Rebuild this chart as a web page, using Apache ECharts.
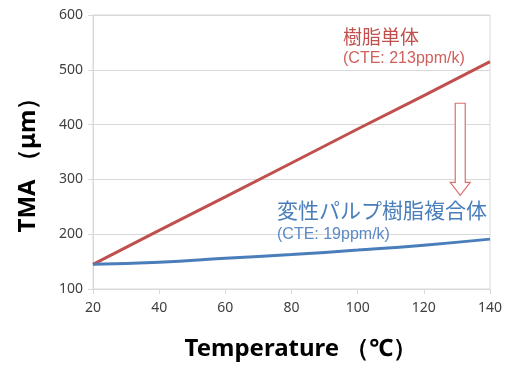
<!DOCTYPE html>
<html><head><meta charset="utf-8">
<script src="https://cdn.jsdelivr.net/npm/echarts@6/dist/echarts.min.js"></script>
<style>html,body{margin:0;padding:0;background:#fff}#c{width:511px;height:365px}</style>
</head><body><div id="c"></div>
<script>
const temps = [20, 40, 60, 80, 100, 120, 140];
const resinValues = [145, 207, 268, 330, 392, 453, 515];
const compositeValues = [145, 149, 156, 163, 171, 180, 191];
const xTicks = [20, 40, 60, 80, 100, 120, 140];
const yTicks = [100, 200, 300, 400, 500, 600];
const arrowX = 131, arrowTop = 439, arrowTip = 271;

(function(){
const red = '#c0504d', blue = '#4a7ebb';
const chart = echarts.init(document.getElementById('c'), null, {renderer: 'canvas'});
const font = '"Noto Sans", "Open Sans", sans-serif';
const arial = '"Liberation Sans", Arial, sans-serif';
const cjk = '"Noto Sans CJK JP", sans-serif';
chart.setOption({
  animation: false,
  grid: {left: 93, right: 21, top: 15, bottom: 76, show: true, borderColor: '#d9d9d9', borderWidth: 1},
  xAxis: {type: 'value', min: xTicks[0], max: xTicks[xTicks.length-1], interval: 20,
    axisLine: {show: true, lineStyle: {color: '#d9d9d9'}},
    axisTick: {show: true, length: 5, lineStyle: {color: '#d9d9d9'}},
    splitLine: {show: false},
    axisLabel: {color: '#404040', fontSize: 14, margin: 12, fontFamily: font}},
  yAxis: {type: 'value', min: yTicks[0], max: yTicks[yTicks.length-1], interval: 100,
    axisLine: {show: true, lineStyle: {color: '#d9d9d9'}},
    axisTick: {show: true, length: 5, lineStyle: {color: '#d9d9d9'}},
    splitLine: {show: true, lineStyle: {color: '#d9d9d9'}},
    axisLabel: {color: '#404040', fontSize: 14, margin: 10, fontFamily: font}},
  series: [
    {type: 'line', data: temps.map((t,i)=>[t, resinValues[i]]), showSymbol: false, lineStyle: {color: red, width: 3}, z: 3},
    {type: 'line', data: temps.map((t,i)=>[t, compositeValues[i]]), smooth: true, showSymbol: false, lineStyle: {color: blue, width: 3}, z: 3}
  ]
});
const p1 = chart.convertToPixel({gridIndex: 0}, [arrowX, arrowTop]);
const p2 = chart.convertToPixel({gridIndex: 0}, [arrowX, arrowTip]);
const cx = p1[0], yTop = p1[1], yTip = p2[1];
const headH = 13;
chart.setOption({graphic: [
  {type: 'polygon', shape: {points: [[cx-5, yTop], [cx+5, yTop], [cx+5, yTip-headH], [cx+10, yTip-headH], [cx, yTip], [cx-10, yTip-headH], [cx-5, yTip-headH]]},
   style: {fill: '#fff', stroke: '#d9706d', lineWidth: 1.2}, z: 10},
  {type: 'text', x: 343, y: 37, style: {text: '樹脂単体', fill: red, font: '19px ' + cjk, verticalAlign: 'middle'}, z: 11},
  {type: 'text', x: 343, y: 59, style: {text: '(CTE: 213ppm/k)', fill: '#d0605d', font: '16px ' + arial, verticalAlign: 'middle'}, z: 11},
  {type: 'text', x: 277, y: 210, style: {text: '変性パルプ樹脂複合体', fill: blue, font: '21px ' + cjk, verticalAlign: 'middle'}, z: 11},
  {type: 'text', x: 277, y: 235, style: {text: '(CTE: 19ppm/k)', fill: '#5b88c6', font: '16px ' + arial, verticalAlign: 'middle'}, z: 11},
  {type: 'text', x: 301, y: 349, style: {text: 'Temperature （℃）', fill: '#000', font: 'bold 24px ' + font, align: 'center', verticalAlign: 'middle'}, z: 11},
  {type: 'text', x: 28, y: 159, rotation: Math.PI/2, style: {text: 'TMA （μm）', fill: '#000', font: 'bold 24px ' + font, align: 'center', verticalAlign: 'middle'}, z: 11}
]});
})();
</script></body></html>
